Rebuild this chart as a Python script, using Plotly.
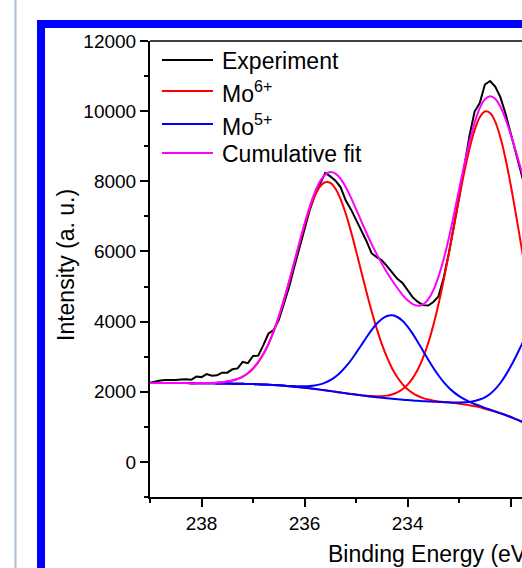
import plotly.graph_objects as go

# Canvas and plot-area geometry (pixels)
W, H = 522, 568
ML, MR, MT, MB = 150, 0, 41, 71
PW, PH = W - ML - MR, H - MT - MB


def px(x):
    return (x - ML) / PW


def py(y):
    return (H - MB - y) / PH


FONT = "Liberation Sans, Arial, sans-serif"

# Binding energy grid (eV)
energy = [239.0, 238.9, 238.8, 238.7, 238.6, 238.5, 238.4, 238.3, 238.2, 238.1,
          238.0, 237.9, 237.8, 237.7, 237.6, 237.5, 237.4, 237.3, 237.2, 237.1,
          237.0, 236.9, 236.8, 236.7, 236.6, 236.5, 236.4, 236.3, 236.2, 236.1,
          236.0, 235.9, 235.8, 235.7, 235.6, 235.5, 235.4, 235.3, 235.2, 235.1,
          235.0, 234.9, 234.8, 234.7, 234.6, 234.5, 234.4, 234.3, 234.2, 234.1,
          234.0, 233.9, 233.8, 233.7, 233.6, 233.5, 233.4, 233.3, 233.2, 233.1,
          233.0, 232.9, 232.8, 232.7, 232.6, 232.5, 232.4, 232.3, 232.2, 232.1,
          232.0, 231.9, 231.8, 231.7]

# Measured Mo 3d spectrum (counts)
experiment = [2260, 2300, 2320, 2338, 2332, 2338, 2350, 2357, 2340, 2432,
              2418, 2505, 2455, 2470, 2545, 2545, 2640, 2665, 2850, 2815,
              3020, 3030, 3330, 3660, 3760, 4050, 4520, 4990, 5560, 6100,
              6660, 7180, 7610, 7950, 8240, 8140, 8020, 7830, 7450, 7200,
              6880, 6600, 6300, 5950, 5840, 5750, 5580, 5390, 5220, 5100,
              4900, 4690, 4560, 4470, 4460, 4560, 4720, 5250, 5950, 6700,
              7550, 8420, 9290, 9990, 10230, 10760, 10860, 10700, 10400, 9930,
              9370, 8750, 8200, 7700]

# Shirley-type background
background = [2252, 2252, 2251, 2251, 2250, 2249, 2248, 2247, 2246, 2245,
              2244, 2243, 2241, 2239, 2237, 2235, 2232, 2229, 2226, 2222,
              2218, 2213, 2207, 2200, 2192, 2183, 2172, 2160, 2146, 2131,
              2115, 2098, 2080, 2061, 2041, 2021, 2000, 1979, 1958, 1937,
              1917, 1897, 1878, 1860, 1843, 1827, 1812, 1798, 1785, 1773,
              1762, 1752, 1742, 1733, 1724, 1715, 1706, 1697, 1686, 1673,
              1657, 1638, 1615, 1588, 1557, 1515, 1475, 1432, 1385, 1335,
              1280, 1220, 1160, 1100]

# Fitted components (intensity above background)
mo6_3d32 = [0, 0, 0, 0, 0, 0, 0, 0, 0, 2,
            4, 7, 11, 20, 33, 55, 87, 137, 208, 308,
            446, 630, 868, 1166, 1529, 1957, 2442, 2975, 3535, 4098,
            4636, 5116, 5509, 5788, 5932, 5932, 5788, 5509, 5116, 4636,
            4098, 3535, 2975, 2442, 1957, 1529, 1166, 868, 630, 446,
            308, 208, 137, 87, 55, 33, 20, 11, 7, 4,
            2, 0, 0, 0, 0, 0, 0, 0, 0, 0,
            0, 0, 0, 0]
mo6_3d52 = [0, 0, 0, 0, 0, 0, 0, 0, 0, 0,
            0, 0, 0, 0, 0, 0, 0, 0, 0, 0,
            0, 0, 0, 0, 0, 0, 0, 0, 0, 0,
            0, 0, 0, 0, 0, 0, 0, 0, 0, 1,
            3, 5, 9, 16, 29, 48, 78, 125, 196, 297,
            440, 638, 899, 1239, 1666, 2185, 2796, 3489, 4250, 5050,
            5855, 6623, 7309, 7870, 8268, 8474, 8474, 8268, 7870, 7309,
            6623, 5855, 5050, 4250]
mo5_3d32 = [0, 0, 0, 0, 0, 0, 0, 0, 0, 0,
            0, 0, 0, 0, 0, 0, 0, 0, 0, 0,
            0, 0, 0, 0, 1, 3, 5, 8, 15, 24,
            40, 64, 99, 149, 218, 310, 430, 578, 757, 962,
            1190, 1430, 1671, 1898, 2096, 2249, 2347, 2380, 2347, 2249,
            2096, 1898, 1671, 1430, 1190, 962, 757, 578, 430, 310,
            218, 149, 99, 64, 40, 24, 15, 8, 5, 3,
            1, 0, 0, 0]
mo5_3d52 = [0, 0, 0, 0, 0, 0, 0, 0, 0, 0,
            0, 0, 0, 0, 0, 0, 0, 0, 0, 0,
            0, 0, 0, 0, 0, 0, 0, 0, 0, 0,
            0, 0, 0, 0, 0, 0, 0, 0, 0, 0,
            0, 0, 0, 0, 0, 0, 0, 0, 0, 0,
            0, 0, 0, 0, 1, 2, 4, 7, 12, 22,
            36, 60, 95, 148, 223, 326, 464, 643, 865, 1132,
            1440, 1780, 2140, 2499]

x_ticks = [238, 236, 234, 232]
y_ticks = [0, 2000, 4000, 6000, 8000, 10000, 12000]

RED, BLUE, MAGENTA = "#ff0000", "#0000ff", "#ff00ff"


def on_bg(comp):
    return [b + c for b, c in zip(background, comp)]


cumulative = [b + a + c + d + e for b, a, c, d, e in
              zip(background, mo6_3d32, mo6_3d52, mo5_3d32, mo5_3d52)]

fig = go.Figure()
fig.add_trace(go.Scatter(x=energy, y=experiment, mode="lines",
                         line=dict(color="#000000", width=2)))
for comp in (mo6_3d32, mo6_3d52):
    fig.add_trace(go.Scatter(x=energy, y=on_bg(comp), mode="lines",
                             line=dict(color=RED, width=2, shape="spline")))
for comp in (mo5_3d32, mo5_3d52):
    fig.add_trace(go.Scatter(x=energy, y=on_bg(comp), mode="lines",
                             line=dict(color=BLUE, width=2, shape="spline")))
fig.add_trace(go.Scatter(x=energy, y=cumulative, mode="lines",
                         line=dict(color=MAGENTA, width=2, shape="spline")))

shapes = []
# outer blue frame
shapes.append(dict(type="rect", xref="paper", yref="paper",
                   x0=px(41), x1=px(800), y0=py(24), y1=py(800),
                   line=dict(color="#0000ff", width=8)))
# thin window edge on the far left
shapes.append(dict(type="line", xref="paper", yref="paper",
                   x0=px(15.5), x1=px(15.5), y0=py(-5), y1=py(600),
                   line=dict(color="#a9bdd6", width=2)))
# top border of the plot box
shapes.append(dict(type="line", xref="paper", yref="paper",
                   x0=px(150), x1=px(600), y0=py(41), y1=py(41),
                   line=dict(color="#000000", width=1.5)))

annotations = []
legend_rows = [("Experiment", "#000000", 60),
               ("Mo<sup>6+</sup>", RED, 91),
               ("Mo<sup>5+</sup>", BLUE, 124),
               ("Cumulative fit", MAGENTA, 153)]
for label, color, yrow in legend_rows:
    shapes.append(dict(type="line", xref="paper", yref="paper",
                       x0=px(162), x1=px(213), y0=py(yrow), y1=py(yrow),
                       line=dict(color=color, width=2)))
    annotations.append(dict(xref="paper", yref="paper", x=px(220), y=py(yrow + 1),
                            xanchor="left", yanchor="middle", showarrow=False,
                            text=label, font=dict(family=FONT, size=23, color="#000000")))

annotations.append(dict(xref="paper", yref="paper", x=px(326), y=py(554),
                        xanchor="left", yanchor="middle", showarrow=False,
                        text="Binding Energy (eV)",
                        font=dict(family=FONT, size=23, color="#000000")))
annotations.append(dict(xref="paper", yref="paper", x=px(66), y=py(265),
                        xanchor="center", yanchor="middle", showarrow=False,
                        textangle=-90, text="Intensity (a. u.)",
                        font=dict(family=FONT, size=23, color="#000000")))

fig.update_layout(
    width=W, height=H,
    margin=dict(l=ML, r=MR, t=MT, b=MB, pad=0),
    paper_bgcolor="#ffffff", plot_bgcolor="#ffffff",
    showlegend=False,
    shapes=shapes, annotations=annotations,
    font=dict(family=FONT, color="#000000"),
    xaxis=dict(range=[239, 231.78], tickmode="array", tickvals=x_ticks,
               ticktext=[str(v) for v in x_ticks],
               showline=True, linecolor="#000000", linewidth=2,
               ticks="outside", ticklen=8, tickwidth=2, tickcolor="#000000",
               minor=dict(dtick=1, tick0=231, ticks="outside", ticklen=4,
                          tickwidth=2, tickcolor="#000000"),
               showgrid=False, zeroline=False,
               tickfont=dict(family=FONT, size=19, color="#000000")),
    yaxis=dict(range=[-1000, 12000], tickmode="array", tickvals=y_ticks,
               ticktext=[str(v) for v in y_ticks],
               showline=True, linecolor="#000000", linewidth=2,
               ticks="outside", ticklen=8, tickwidth=2, tickcolor="#000000",
               minor=dict(dtick=1000, tick0=-1000, ticks="outside", ticklen=4,
                          tickwidth=2, tickcolor="#000000"),
               showgrid=False, zeroline=False,
               tickfont=dict(family=FONT, size=19, color="#000000")),
)

fig.write_html("out.html", config={"displayModeBar": False})
